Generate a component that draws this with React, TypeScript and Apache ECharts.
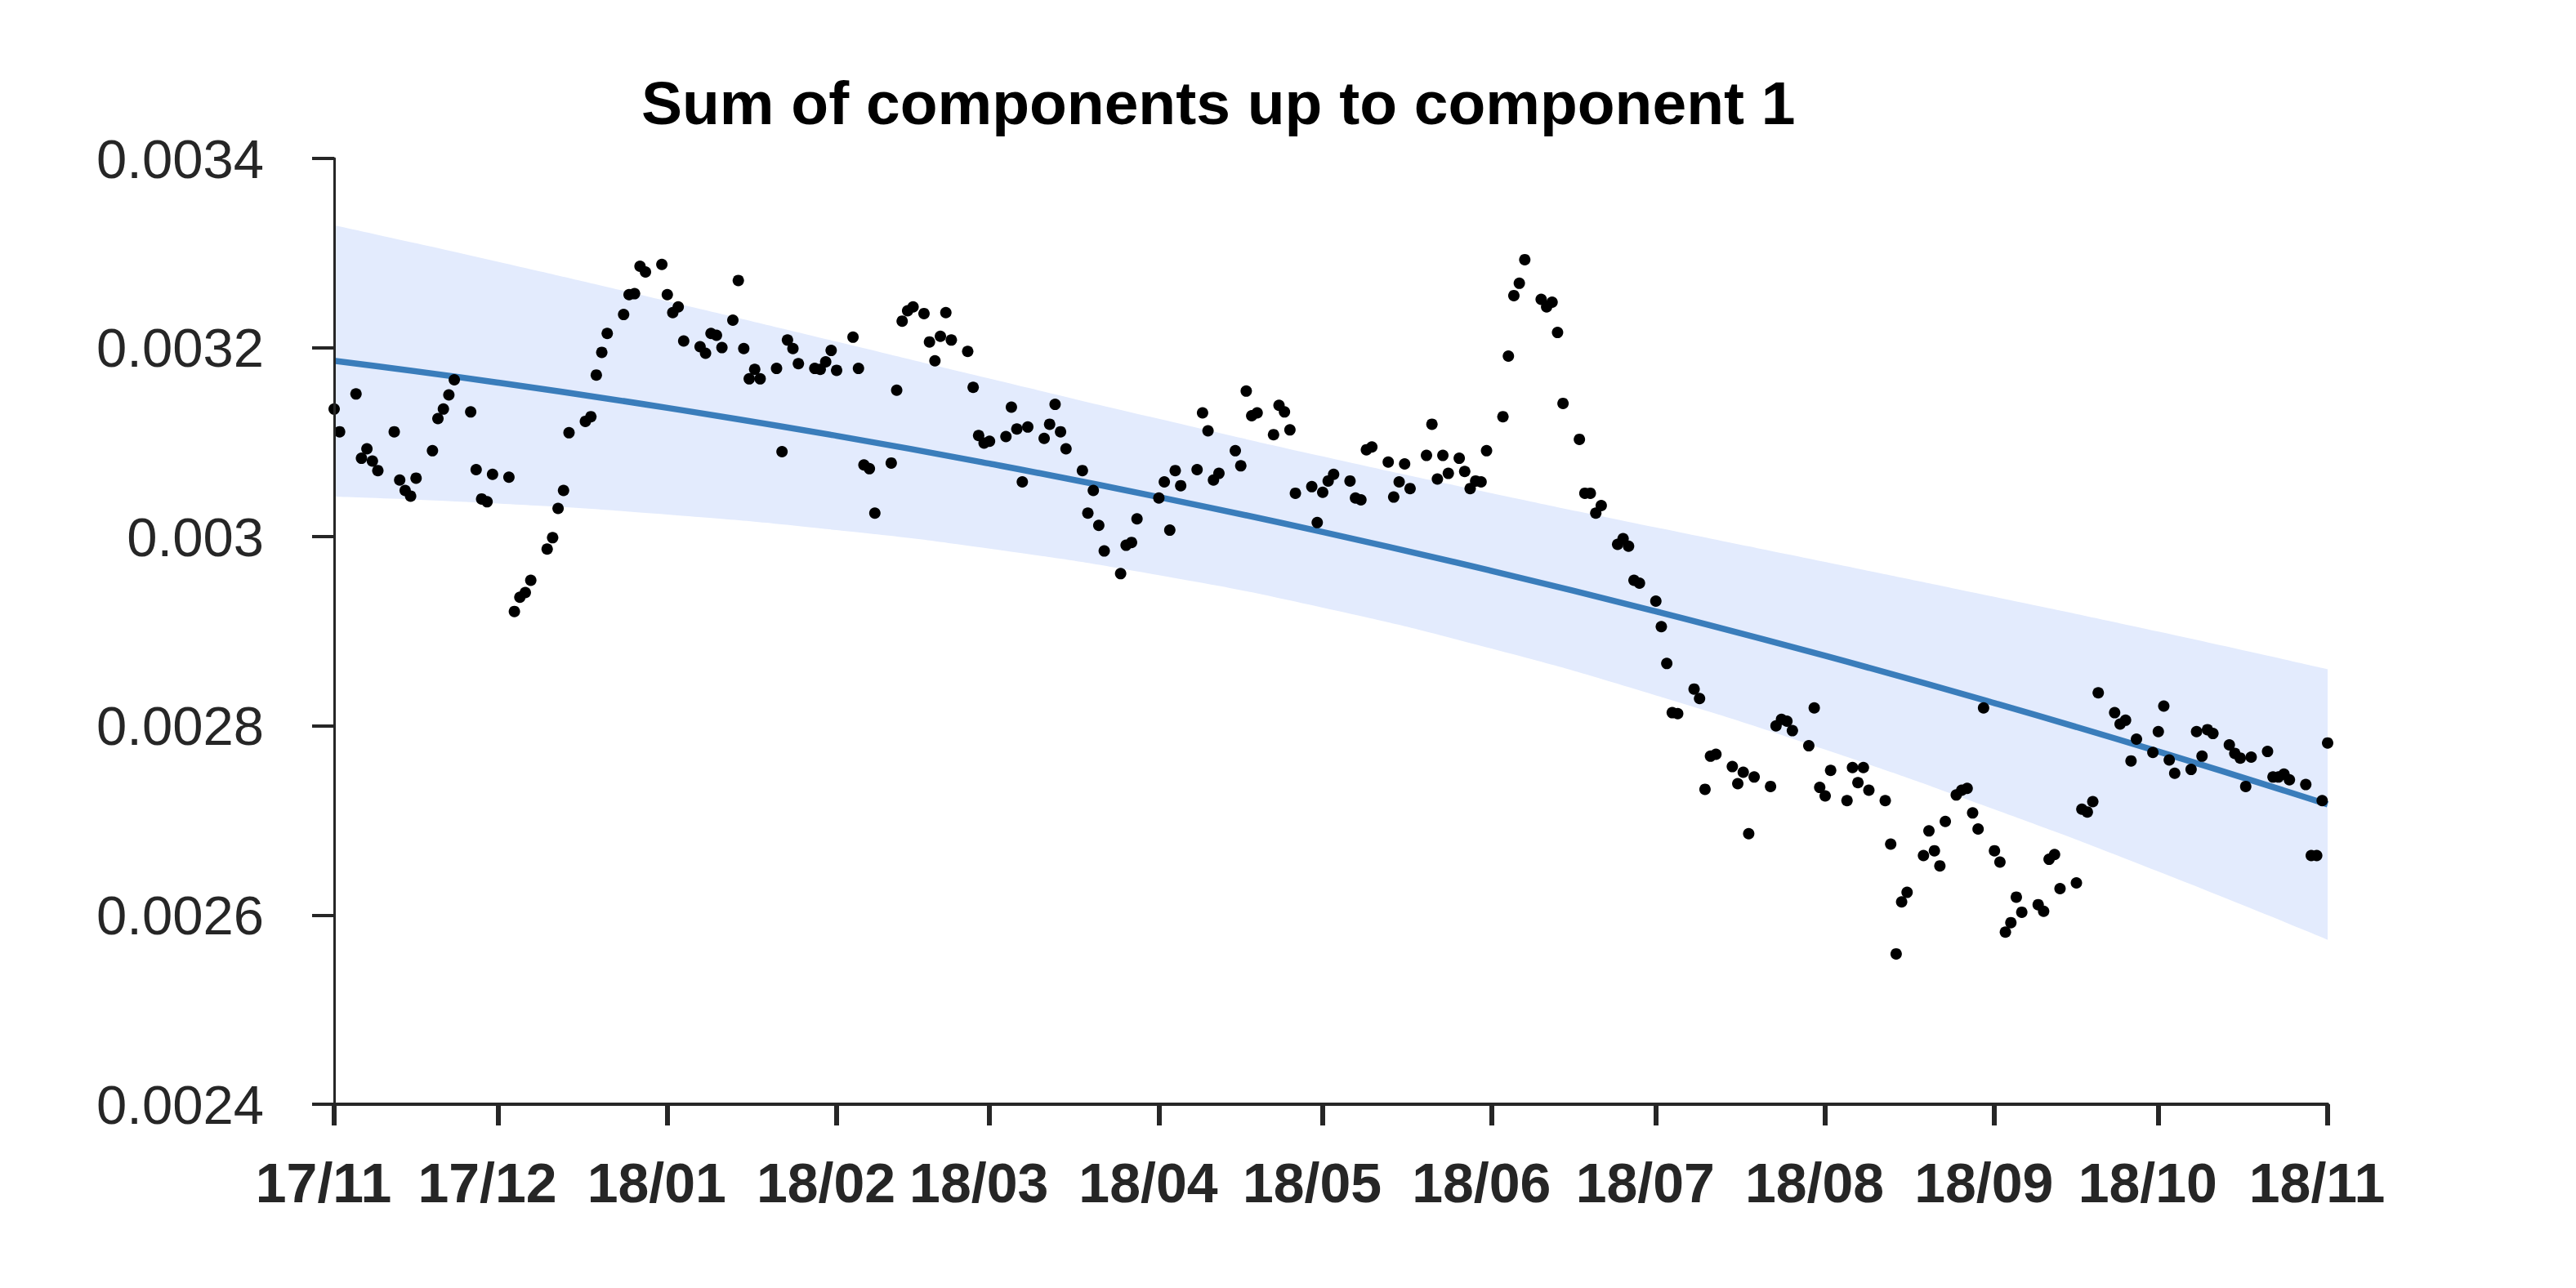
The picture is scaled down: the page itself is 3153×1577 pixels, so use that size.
import React, { useEffect, useRef } from "react";
import * as echarts from "echarts";

const TITLE = "Sum of components up to component 1";

// month ticks: days since 2017-11-01
const monthLabels = ["17/11", "17/12", "18/01", "18/02", "18/03", "18/04", "18/05", "18/06", "18/07", "18/08", "18/09", "18/10", "18/11"];
const monthOffsets = [0, 30, 61, 92, 120, 151, 181, 212, 242, 273, 304, 334, 365];

const yMin = 0.0024;
const yMax = 0.0034;
const yStep = 0.0002;

// fitted trend and its band, read at each month tick
const trend = [0.003186, 0.003163, 0.0031363, 0.0031067, 0.0030773, 0.003042, 0.003005, 0.0029638, 0.0029211, 0.0028741, 0.0028241, 0.0027729, 0.002717];
const upper = [0.0033295, 0.0032908, 0.0032491, 0.0032063, 0.0031672, 0.0031247, 0.003085, 0.003046, 0.0030099, 0.0029733, 0.0029364, 0.0028997, 0.00286];
const lower = [0.0030425, 0.0030352, 0.0030235, 0.0030071, 0.0029874, 0.0029593, 0.002925, 0.0028816, 0.0028323, 0.0027749, 0.0027118, 0.0026461, 0.002574];

// observations: day offset since 2017-11-01 and value
const obsDay = [
  0, 1, 4, 5, 6, 7, 8, 11, 12, 13, 14, 15, 18, 19, 20, 21, 22, 25, 26, 27, 28, 29,
  32, 33, 34, 35, 36, 39, 40, 41, 42, 43, 46, 47, 48, 49, 50, 53, 54, 55, 56, 57, 60,
  61, 62, 63, 64, 67, 68, 69, 70, 71, 73, 74, 75, 76, 77, 78, 81, 82, 83, 84, 85, 88, 89, 90, 91,
  92, 95, 96, 97, 98, 99, 102, 103, 104, 105, 106, 108, 109, 110, 111, 112, 113, 116, 117, 118, 119,
  120, 123, 124, 125, 126, 127, 130, 131, 132, 133, 134, 137, 138, 139, 140, 141, 144, 145, 146, 147,
  151, 152, 153, 154, 155, 158, 159, 160, 161, 162, 165, 166, 167, 168, 169, 172, 173, 174, 175, 176, 179, 180,
  181, 182, 183, 186, 187, 188, 189, 190, 193, 194, 195, 196, 197, 200, 201, 202, 203, 204, 206, 207, 208, 209, 210, 211,
  214, 215, 216, 217, 218, 221, 222, 223, 224, 225, 228, 229, 230, 231, 232, 235, 236, 237, 238, 239,
  242, 243, 244, 245, 246, 249, 250, 251, 252, 253, 256, 257, 258, 259, 260, 263, 264, 265, 266, 267, 270, 271, 272,
  273, 274, 277, 278, 279, 280, 281, 284, 285, 286, 287, 288, 291, 292, 293, 294, 295, 297, 298, 299, 300, 301, 302,
  304, 305, 306, 307, 308, 309, 312, 313, 314, 315, 316, 319, 320, 321, 322, 323, 326, 327, 328, 329, 330, 333,
  334, 335, 336, 337, 340, 341, 342, 343, 344, 347, 348, 349, 350, 351, 354, 355, 356, 357, 358, 361, 362, 363, 364,
  365,
];
const obsValue = [
  0.003135, 0.003111, 0.003151, 0.003083, 0.003093, 0.00308, 0.00307, 0.003111, 0.00306, 0.003049, 0.003043, 0.003062, 0.003091, 0.003125, 0.003135, 0.00315, 0.003166, 0.003132, 0.003071, 0.00304, 0.003037, 0.003066,
  0.003063, 0.002921, 0.002936, 0.002941, 0.002954, 0.002987, 0.002999, 0.00303, 0.003049, 0.00311, 0.003122, 0.003127, 0.003171, 0.003195, 0.003215, 0.003235, 0.003256, 0.003257, 0.003286, 0.00328, 0.003288,
  0.003256, 0.003237, 0.003243, 0.003207, 0.003201, 0.003194, 0.003215, 0.003213, 0.0032, 0.003229, 0.003271, 0.003199, 0.003167, 0.003177, 0.003167, 0.003178, 0.00309, 0.003208, 0.003199, 0.003183, 0.003178, 0.003177, 0.003185, 0.003197,
  0.003176, 0.003211, 0.003178, 0.003076, 0.003072, 0.003025, 0.003078, 0.003155, 0.003228, 0.003239, 0.003243, 0.003236, 0.003206, 0.003186, 0.003212, 0.003237, 0.003208, 0.003196, 0.003158, 0.003107, 0.003099,
  0.003101, 0.003106, 0.003137, 0.003114, 0.003058, 0.003116, 0.003104, 0.003119, 0.00314, 0.003111, 0.003093, 0.00307, 0.003025, 0.003049, 0.003012, 0.002985, 0.002961, 0.002991, 0.002994, 0.003019,
  0.003041, 0.003058, 0.003007, 0.00307, 0.003054, 0.003071, 0.003131, 0.003112, 0.00306, 0.003067, 0.003091, 0.003075, 0.003154, 0.003128, 0.003131, 0.003108, 0.003139, 0.003132, 0.003113, 0.003046, 0.003053, 0.003015,
  0.003047, 0.003059, 0.003066, 0.003059, 0.003041, 0.003039, 0.003092, 0.003095, 0.003079, 0.003042, 0.003058, 0.003077, 0.003051, 0.003086, 0.003119, 0.003061, 0.003086, 0.003067, 0.003083, 0.003069, 0.003051, 0.003059, 0.003058, 0.003091,
  0.003127, 0.003191, 0.003255, 0.003268, 0.003293, 0.003251, 0.003243, 0.003248, 0.003216, 0.003141, 0.003103, 0.003046, 0.003046, 0.003025, 0.003033, 0.002992, 0.002998, 0.00299, 0.002954, 0.002951,
  0.002932, 0.002905, 0.002866, 0.002814, 0.002813, 0.002839, 0.002829, 0.002733, 0.002768, 0.00277, 0.002757, 0.002739, 0.002751, 0.002686, 0.002746, 0.002736, 0.0028, 0.002807, 0.002805, 0.002795, 0.002779, 0.002819, 0.002735,
  0.002726, 0.002753, 0.002721, 0.002756, 0.00274, 0.002756, 0.002732, 0.002721, 0.002675, 0.002559, 0.002614, 0.002624, 0.002663, 0.002689, 0.002668, 0.002652, 0.002699, 0.002727, 0.002732, 0.002734, 0.002708, 0.002691, 0.002819,
  0.002668, 0.002656, 0.002582, 0.002592, 0.002619, 0.002603, 0.002611, 0.002604, 0.002659, 0.002664, 0.002628, 0.002634, 0.002712, 0.002709, 0.00272, 0.002835, 0.002814, 0.002802, 0.002806, 0.002763, 0.002786, 0.002772,
  0.002794, 0.002821, 0.002764, 0.00275, 0.002754, 0.002794, 0.002768, 0.002796, 0.002792, 0.00278, 0.002771, 0.002766, 0.002736, 0.002767, 0.002773, 0.002746, 0.002746, 0.002749, 0.002743, 0.002738, 0.002663, 0.002663, 0.002721,
  0.002782,
];

const FONT = "'Liberation Sans', Arial, Helvetica, sans-serif";
const AXIS_COLOR = "#262626";
const BAND_COLOR = "#e3ebfd";

export default function App() {
  const ref = useRef<HTMLDivElement>(null);

  useEffect(() => {
    document.body.style.margin = "0";
    if (!ref.current) return;
    const chart = echarts.init(ref.current, null, { renderer: "svg" });

    const upperData = monthOffsets.map((d, i) => [d, upper[i]]);
    const lowerData = monthOffsets.map((d, i) => [d, lower[i]]);
    const trendData = monthOffsets.map((d, i) => [d, trend[i]]);
    const obsData = obsDay.map((d, i) => [d, obsValue[i]]);

    chart.setOption({
      animation: false,
      backgroundColor: "#ffffff",
      title: {
        text: TITLE,
        left: 780,
        top: 83,
        textStyle: { fontFamily: FONT, fontSize: 75, fontWeight: "bold", color: "#000000" },
      },
      grid: {
        left: 409,
        right: 304,
        top: 194,
        bottom: 225,
        containLabel: false,
        outerBoundsMode: "none",
      },
      xAxis: {
        type: "value",
        min: 0,
        max: 365,
        z: 10,
        splitLine: { show: false },
        axisLine: { show: true, onZero: false, lineStyle: { color: AXIS_COLOR, width: 4 } },
        axisTick: {
          show: true,
          customValues: monthOffsets,
          length: 26,
          lineStyle: { color: AXIS_COLOR, width: 6 },
        },
        axisLabel: {
          show: true,
          customValues: monthOffsets,
          formatter: (v: number) => {
            const i = monthOffsets.indexOf(Math.round(v));
            return i >= 0 ? monthLabels[i] : "";
          },
          fontFamily: FONT,
          fontSize: 68,
          fontWeight: "bold",
          color: AXIS_COLOR,
          margin: 62,
          padding: [0, 26, 0, 0],
        },
      },
      yAxis: {
        type: "value",
        min: yMin,
        max: yMax,
        interval: yStep,
        z: 10,
        splitLine: { show: false },
        axisLine: { show: true, onZero: false, lineStyle: { color: AXIS_COLOR, width: 3 } },
        axisTick: { show: true, length: 27, lineStyle: { color: AXIS_COLOR, width: 4 } },
        axisLabel: {
          fontFamily: FONT,
          fontSize: 67,
          color: AXIS_COLOR,
          margin: 86,
          formatter: (v: number) => String(parseFloat(v.toFixed(4))),
        },
      },
      series: [
        {
          type: "line",
          name: "upper",
          data: upperData,
          smooth: true,
          symbol: "none",
          silent: true,
          lineStyle: { width: 0, opacity: 0 },
          areaStyle: { color: BAND_COLOR, opacity: 1, origin: "start" },
          z: 1,
        },
        {
          type: "line",
          name: "lower",
          data: lowerData,
          smooth: true,
          symbol: "none",
          silent: true,
          lineStyle: { width: 0, opacity: 0 },
          areaStyle: { color: "#ffffff", opacity: 1, origin: "start" },
          z: 1,
        },
        {
          type: "line",
          name: "trend",
          data: trendData,
          smooth: true,
          symbol: "none",
          silent: true,
          lineStyle: { color: "#3a7dbb", width: 7.5 },
          z: 3,
        },
        {
          type: "scatter",
          name: "obs",
          data: obsData,
          symbol: "circle",
          symbolSize: 14,
          itemStyle: { color: "#000000", opacity: 1 },
          silent: true,
          z: 4,
        },
      ],
    });

    return () => chart.dispose();
  }, []);

  return <div ref={ref} style={{ width: 3153, height: 1577 }} />;
}
